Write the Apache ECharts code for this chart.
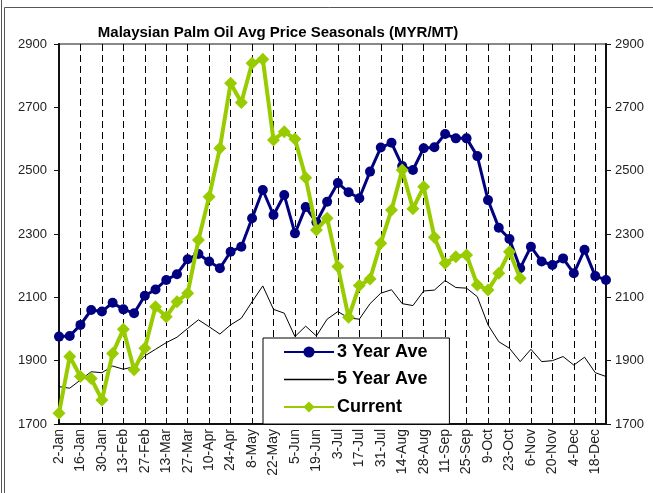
<!DOCTYPE html>
<html>
<head>
	<meta charset="utf-8">
	<title>Malaysian Palm Oil Avg Price Seasonals</title>
	<script src="https://cdn.jsdelivr.net/npm/echarts@6/dist/echarts.min.js"></script>
	<style type="text/css">
		html, body { margin: 0; padding: 0; background: #ffffff; }
		#main { width: 653px; height: 493px; }
	</style>
</head>
<body>
	<div id="main"></div>
	<script type="text/javascript">
		// weekly categories, 2-Jan .. 25-Dec
		var weeks = ['2-Jan','9-Jan','16-Jan','23-Jan','30-Jan','6-Feb','13-Feb','20-Feb','27-Feb','6-Mar',
			'13-Mar','20-Mar','27-Mar','3-Apr','10-Apr','17-Apr','24-Apr','1-May','8-May','15-May',
			'22-May','29-May','5-Jun','12-Jun','19-Jun','26-Jun','3-Jul','10-Jul','17-Jul','24-Jul',
			'31-Jul','7-Aug','14-Aug','21-Aug','28-Aug','4-Sep','11-Sep','18-Sep','25-Sep','2-Oct',
			'9-Oct','16-Oct','23-Oct','30-Oct','6-Nov','13-Nov','20-Nov','27-Nov','4-Dec','11-Dec',
			'18-Dec','25-Dec'];

		var threeYearAve = [1976,1978,2013,2060,2055,2083,2062,2050,2105,2125,
			2155,2173,2220,2237,2213,2192,2244,2260,2350,2439,
			2360,2423,2302,2385,2337,2402,2461,2432,2413,2497,
			2573,2588,2515,2502,2571,2574,2616,2602,2602,2546,
			2407,2320,2284,2192,2260,2213,2202,2223,2176,2250,
			2167,2155];

		var fiveYearAve = [1818,1813,1839,1865,1862,1883,1873,1881,1915,1936,
			1957,1974,2002,2029,2007,1984,2013,2034,2086,2136,
			2062,2050,1976,2009,1978,2031,2055,2035,2031,2080,
			2113,2124,2080,2074,2120,2123,2153,2131,2129,2102,
			2013,1960,1939,1897,1936,1897,1900,1913,1886,1911,
			1862,1850];

		var current = [1734,1913,1850,1844,1776,1923,1999,1871,1939,2070,
			2039,2086,2113,2281,2418,2571,2776,2715,2839,2852,
			2597,2623,2600,2478,2313,2350,2197,2037,2137,2158,
			2271,2376,2502,2380,2449,2290,2208,2228,2234,2139,
			2123,2176,2244,2160];

		var yMin = 1700, yMax = 2900, yStep = 200;

		var myChart = echarts.init(document.getElementById('main'));

		function valueAxis(pos) {
			return {
				type: 'value',
				position: pos,
				min: yMin,
				max: yMax,
				interval: yStep,
				axisLine: { show: true, lineStyle: { color: '#111', width: 2 } },
				axisTick: { show: true, length: 5, lineStyle: { color: '#111', width: 1 } },
				axisLabel: {
					color: '#222',
					fontFamily: 'Liberation Sans, Arial',
					fontSize: 13,
					margin: pos === 'left' ? 12 : 9,
					formatter: function (v) { return String(v); }
				},
				splitLine: { show: false }
			};
		}

		var option = {
			animation: false,
			backgroundColor: '#ffffff',
			title: {
				text: 'Malaysian Palm Oil Avg Price Seasonals (MYR/MT)',
				left: 273,
				textAlign: 'center',
				top: 20,
				textStyle: {
					color: '#000',
					fontFamily: 'Liberation Sans, Arial',
					fontWeight: 'bold',
					fontSize: 15
				}
			},
			graphic: [
				{ type: 'rect', shape: { x: 4.5, y: 7.5, width: 700, height: 600 },
				  style: { fill: 'none', stroke: '#555', lineWidth: 1 } },
				{ type: 'line', shape: { x1: 1.5, y1: 0, x2: 1.5, y2: 493 },
				  style: { stroke: '#555', lineWidth: 1 } }
			],
			grid: {
				left: 59,
				right: 47,
				top: 44,
				bottom: 69,
				show: true,
				borderColor: '#888',
				borderWidth: 2
			},
			legend: {
				orient: 'vertical',
				left: 263,
				top: 338,
				backgroundColor: '#fff',
				borderColor: '#000',
				borderWidth: 1,
				padding: [5, 22, 8, 20],
				itemWidth: 50,
				itemHeight: 14,
				itemGap: 9.5,
				textStyle: {
					color: '#000',
					fontFamily: 'Liberation Sans, Arial',
					fontWeight: 'bold',
					fontSize: 18,
					padding: [0, 0, 0, -2]
				},
				data: [
					'3 Year Ave',
					{ name: '5 Year Ave', icon: 'path://M0,0 L60,0 L60,2 L0,2 Z' },
					'Current'
				]
			},
			xAxis: {
				type: 'category',
				data: weeks,
				boundaryGap: false,
				axisLine: { lineStyle: { color: '#111', width: 2 } },
				axisTick: { show: true, interval: 1, length: 6, inside: true, lineStyle: { color: '#111' } },
				axisLabel: {
					interval: 1,
					rotate: 90,
					margin: 5,
					color: '#222',
					fontFamily: 'Liberation Sans, Arial',
					fontSize: 14
				},
				splitLine: {
					show: true,
					interval: 1,
					lineStyle: { color: '#000', width: 1, type: [7, 4] }
				}
			},
			yAxis: [valueAxis('left'), valueAxis('right')],
			series: [
				{
					name: '3 Year Ave',
					type: 'line',
					data: threeYearAve,
					symbol: 'circle',
					symbolSize: 10,
					showAllSymbol: true,
					z: 3,
					lineStyle: { color: '#000080', width: 3 },
					itemStyle: { color: '#000080' }
				},
				{
					name: '5 Year Ave',
					type: 'line',
					data: fiveYearAve,
					symbol: 'none',
					z: 2,
					lineStyle: { color: '#000', width: 1 },
					itemStyle: { color: '#000' }
				},
				{
					name: 'Current',
					type: 'line',
					data: current,
					symbol: 'diamond',
					symbolSize: 13,
					showAllSymbol: true,
					z: 4,
					lineStyle: { color: '#99CC00', width: 4 },
					itemStyle: { color: '#99CC00' }
				}
			]
		};

		myChart.setOption(option);
	</script>
</body>
</html>
